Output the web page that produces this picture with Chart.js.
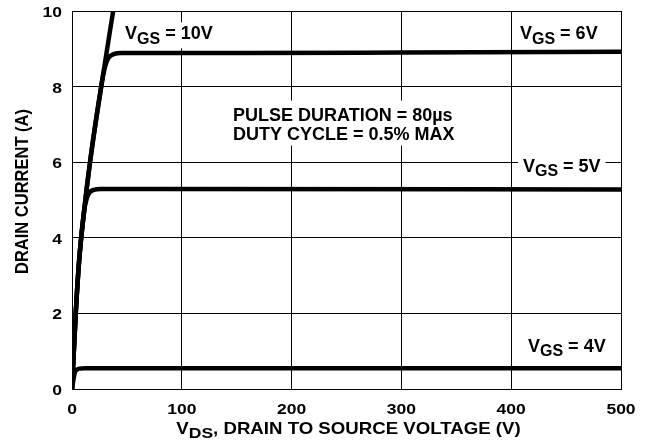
<!DOCTYPE html>
<html>
<head>
<meta charset="utf-8">
<script src="https://cdn.jsdelivr.net/npm/chart.js@4"></script>
<style>
  html, body { margin: 0; padding: 0; background: #fff; }
  #wrap { width: 655px; height: 445px; }
</style>
</head>
<body>
<div id="wrap"><canvas id="chart" width="655" height="445"></canvas></div>
<script>
// VGS = 10V
const vds10 = [0, 3.4, 6.5, 11, 16.4, 26.6, 37.5];
const id10 = [0, 2, 3.4, 4.7, 6, 8, 10];
// VGS = 6V
const vds6 = [0, 3.4, 6.5, 11, 16.4, 26.6, 29.5, 33, 38, 45, 150, 300, 500];
const id6 = [0, 2, 3.4, 4.7, 6, 8, 8.45, 8.75, 8.86, 8.89, 8.89, 8.9, 8.92];
// VGS = 5V
const vds5 = [0, 3.4, 6.5, 11, 13.5, 16, 20, 26, 60, 500];
const id5 = [0, 2, 3.4, 4.7, 5.05, 5.2, 5.27, 5.29, 5.29, 5.28];
// VGS = 4V
const vds4 = [0, 1.5, 2.5, 4, 7, 12, 500];
const id4 = [0, 0.28, 0.43, 0.5, 0.54, 0.55, 0.55];

const xTicks = [0, 100, 200, 300, 400, 500];
const yTicks = [0, 2, 4, 6, 8, 10];

const FONT = "'Liberation Sans', Arial, Helvetica, sans-serif";
const SX = 1.13; // axis text in the original is a bit wide

function pts(xs, ys) {
  return xs.map((x, i) => ({ x: x, y: ys[i] }));
}

function line(xs, ys) {
  return {
    data: pts(xs, ys),
    borderColor: '#000',
    borderWidth: 4.5,
    pointRadius: 0,
    fill: false,
    cubicInterpolationMode: 'monotone',
    borderCapStyle: 'round',
    borderJoinStyle: 'round'
  };
}

// measure/draw "V" + subscript + rest, stretched horizontally by sx
function richWidth(ctx, parts, sx) {
  let w = 0;
  parts.forEach(p => {
    ctx.font = 'bold ' + p.size + 'px ' + FONT;
    w += ctx.measureText(p.t).width;
  });
  return w * sx;
}

function drawRich(ctx, x, y, parts, sx) {
  ctx.save();
  ctx.translate(x, y);
  ctx.scale(sx, 1);
  ctx.textAlign = 'left';
  ctx.textBaseline = 'alphabetic';
  ctx.fillStyle = '#000';
  let cx = 0;
  parts.forEach(p => {
    ctx.font = 'bold ' + p.size + 'px ' + FONT;
    ctx.fillText(p.t, cx, p.sub ? 4.5 : 0);
    cx += ctx.measureText(p.t).width;
  });
  ctx.restore();
}

function vgs(val) {
  return [{ t: 'V', size: 18 }, { t: 'GS', size: 16, sub: true }, { t: ' = ' + val, size: 18 }];
}

// annotations: x, y in data units (left edge, baseline)
const notes = [
  { x: 48.3, y: 9.25, parts: vgs('10V') },
  { x: 408, y: 9.25, parts: vgs('6V') },
  { x: 410.7, y: 5.75, parts: vgs('5V') },
  { x: 415.3, y: 0.99, parts: vgs('4V') }
];

const textPlugin = {
  id: 'texts',
  afterDatasetsDraw(chart) {
    const ctx = chart.ctx;
    const xs = chart.scales.x, ys = chart.scales.y;
    const a = chart.chartArea;

    // tick labels
    ctx.save();
    ctx.fillStyle = '#000';
    ctx.font = 'bold 15.5px ' + FONT;
    ctx.textBaseline = 'alphabetic';
    xs.ticks.forEach(t => {
      const s = String(t.value);
      const w = ctx.measureText(s).width * SX;
      const px = xs.getPixelForValue(t.value);
      ctx.save();
      ctx.translate(px - w / 2, a.bottom + 24.5);
      ctx.scale(SX, 1);
      ctx.fillText(s, 0, 0);
      ctx.restore();
    });
    ys.ticks.forEach(t => {
      const s = String(t.value);
      const w = ctx.measureText(s).width * SX;
      const py = ys.getPixelForValue(t.value);
      ctx.save();
      ctx.translate(a.left - 10 - w, py + 6);
      ctx.scale(SX, 1);
      ctx.fillText(s, 0, 0);
      ctx.restore();
    });

    // y title
    ctx.save();
    ctx.translate(15, 191.5);
    ctx.scale(SX, 1);
    ctx.rotate(-Math.PI / 2);
    ctx.font = 'bold 16.5px ' + FONT;
    ctx.textAlign = 'center';
    ctx.fillText('DRAIN CURRENT (A)', 0, 11.8);
    ctx.restore();
    ctx.restore();

    // x title
    const xt = [{ t: 'V', size: 16.5 }, { t: 'DS', size: 15.5, sub: true },
                { t: ', DRAIN TO SOURCE VOLTAGE (V)', size: 16.5 }];
    const xw = richWidth(ctx, xt, SX);
    drawRich(ctx, (a.left + a.right) / 2 + 2 - xw / 2, a.bottom + 44.5, xt, SX);

    // VGS labels with white boxes
    notes.forEach(n => {
      const px = xs.getPixelForValue(n.x);
      const py = ys.getPixelForValue(n.y);
      const w = richWidth(ctx, n.parts, 1);
      ctx.fillStyle = '#fff';
      ctx.fillRect(px - 5, py - 17, w + 10, 26);
      drawRich(ctx, px, py, n.parts, 1);
    });

    // pulse note
    const l1 = [{ t: 'PULSE DURATION = 80\u00B5s', size: 18 }];
    const l2 = [{ t: 'DUTY CYCLE = 0.5% MAX', size: 18 }];
    const px = xs.getPixelForValue(146.6);
    const p1 = ys.getPixelForValue(7.1), p2 = ys.getPixelForValue(6.6);
    const w = Math.max(richWidth(ctx, l1, 1), richWidth(ctx, l2, 1));
    ctx.fillStyle = '#fff';
    ctx.fillRect(px - 5, p1 - 20, w + 10, p2 - p1 + 26);
    drawRich(ctx, px, p1, l1, 1);
    drawRich(ctx, px, p2, l2, 1);
  }
};

new Chart('chart', {
  type: 'line',
  data: {
    datasets: [
      line(vds10, id10),
      line(vds6, id6),
      line(vds5, id5),
      line(vds4, id4)
    ]
  },
  options: {
    responsive: false,
    animation: false,
    layout: { padding: { top: 11, right: 34, left: 0, bottom: 0 } },
    plugins: {
      legend: { display: false },
      tooltip: { enabled: false }
    },
    scales: {
      x: {
        type: 'linear',
        min: 0,
        max: 500,
        afterBuildTicks: s => { s.ticks = xTicks.map(v => ({ value: v })); },
        ticks: { display: false },
        grid: { color: '#000', lineWidth: 1, drawTicks: false },
        border: { color: '#000', width: 1 },
        afterFit: s => { s.height = 56; }
      },
      y: {
        min: 0,
        max: 10,
        afterBuildTicks: s => { s.ticks = yTicks.map(v => ({ value: v })); },
        ticks: { display: false },
        grid: { color: '#000', lineWidth: 1, drawTicks: false },
        border: { color: '#000', width: 1 },
        afterFit: s => { s.width = 72; }
      }
    }
  },
  plugins: [textPlugin]
});
</script>
</body>
</html>
